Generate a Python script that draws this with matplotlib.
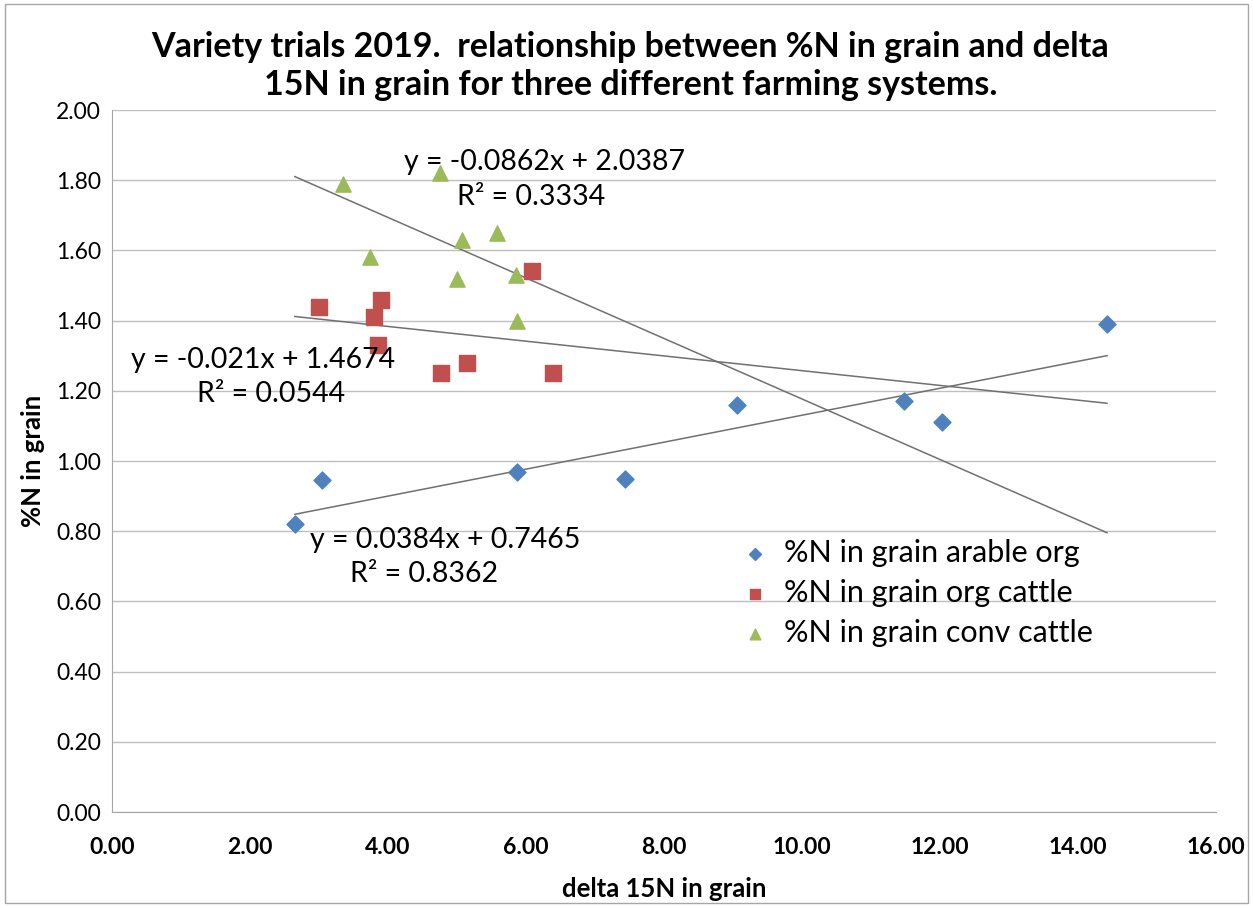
import numpy as np
import matplotlib
matplotlib.use("Agg")
import matplotlib.pyplot as plt
from matplotlib.patches import Rectangle

plt.rcParams['font.family'] = ['Lato', 'DejaVu Sans']

# data
arable_x = [2.65, 3.04, 5.87, 7.43, 9.06, 11.48, 12.03, 14.42]
arable_y = [0.82, 0.945, 0.97, 0.95, 1.16, 1.17, 1.11, 1.39]

orgcat_x = [3.00, 3.90, 3.80, 3.85, 4.77, 5.14, 6.09, 6.39]
orgcat_y = [1.44, 1.46, 1.41, 1.33, 1.25, 1.28, 1.54, 1.25]

convcat_x = [3.35, 4.75, 3.74, 5.07, 5.58, 5.00, 5.86, 5.87]
convcat_y = [1.79, 1.82, 1.58, 1.63, 1.65, 1.52, 1.53, 1.40]

# trendline coefficients as printed on the chart
slopes = [0.0384, -0.021, -0.0862]
intercepts = [0.7465, 1.4674, 2.0387]
eq_labels = ["y = 0.0384x + 0.7465", "y = -0.021x + 1.4674", "y = -0.0862x + 2.0387"]
r2_labels = ["R² = 0.8362", "R² = 0.0544", "R² = 0.3334"]

names = ["%N in grain arable org", "%N in grain org cattle", "%N in grain conv cattle"]

fig = plt.figure(figsize=(12.53, 9.07), dpi=100)
ax = fig.add_axes([0.0894, 0.1047, 0.8811, 0.774])

fig.patches.append(Rectangle((0.004, 0.004), 0.992, 0.992, transform=fig.transFigure,
                             fill=False, edgecolor='#a6a6a6', linewidth=1.0))

ax.scatter(arable_x, arable_y, marker='D', s=75, color='#4F81BD', label=names[0], zorder=3)
ax.scatter(orgcat_x, orgcat_y, marker='s', s=120, color='#C0504D', label=names[1], zorder=3)
ax.scatter(convcat_x, convcat_y, marker='^', s=120, color='#9BBB59', label=names[2], zorder=3)

all_x = arable_x + orgcat_x + convcat_x
xs = np.array([min(all_x), max(all_x)])
for m, c in zip(slopes, intercepts):
    ax.plot(xs, m * xs + c, color='#707070', linewidth=1.1, zorder=2)

# trendline labels
fs = 20.5
ax.text(4.83, 0.775, eq_labels[0], fontsize=fs, ha='center', va='center')
ax.text(4.52, 0.678, r2_labels[0], fontsize=fs, ha='center', va='center')
ax.text(2.19, 1.288, eq_labels[1], fontsize=fs, ha='center', va='center')
ax.text(2.31, 1.19, r2_labels[1], fontsize=fs, ha='center', va='center')
ax.text(6.27, 1.853, eq_labels[2], fontsize=fs, ha='center', va='center')
ax.text(6.07, 1.753, r2_labels[2], fontsize=fs, ha='center', va='center')

ax.set_xlim(0, 16)
ax.set_ylim(0, 2.0)
ax.set_xticks(np.arange(0, 16.01, 2))
ax.set_yticks(np.arange(0, 2.01, 0.2))
ax.set_xticklabels([f"{v:.2f}" for v in np.arange(0, 16.01, 2)], fontweight='bold')
ax.set_yticklabels([f"{v:.2f}" for v in np.arange(0, 2.01, 0.2)])
ax.tick_params(axis='both', length=0, labelsize=16.5)
ax.tick_params(axis='x', pad=18)
ax.tick_params(axis='y', pad=8)

ax.grid(axis='y', color='#bfbfbf', linewidth=1.0)
ax.set_axisbelow(True)
for side in ['top', 'right']:
    ax.spines[side].set_visible(False)
for side in ['left', 'bottom']:
    ax.spines[side].set_color('#a6a6a6')

ax.set_xlabel("delta 15N in grain", fontsize=18.5, fontweight='bold', labelpad=14)
ax.set_ylabel("%N in grain", fontsize=18.5, fontweight='bold', labelpad=8)

fig.text(0.503, 0.927, "Variety trials 2019.  relationship between %N in grain and delta\n15N in grain for three different farming systems.",
         ha='center', va='center', fontsize=24.5, fontweight='bold', linespacing=1.25)

ax.legend(loc='upper left', bbox_to_anchor=(0.555, 0.41), frameon=False, fontsize=22,
          handlelength=1.0, handletextpad=0.45, borderpad=0, labelspacing=0.38,
          scatterpoints=1, markerscale=0.7)

fig.savefig("out.png", dpi=100)
